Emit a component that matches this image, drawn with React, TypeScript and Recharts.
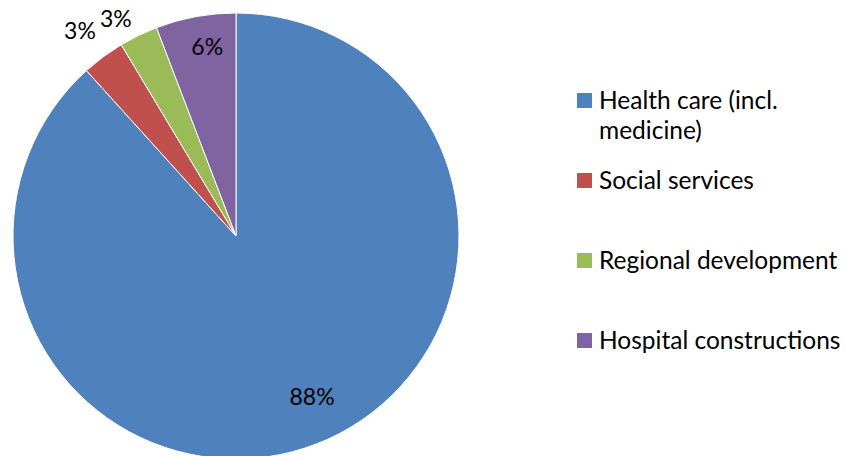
import React from 'react';
import { PieChart, Pie, Cell, Legend } from 'recharts';

const categories = ['Health care (incl. medicine)', 'Social services', 'Regional development', 'Hospital constructions'];
const shares = [88.3, 3.1, 2.8, 5.8];
const percentLabels = ['88%', '3%', '3%', '6%'];
const colors = ['#4F81BD', '#C0504D', '#9BBB59', '#8064A2'];

const data = categories.map((name, i) => ({ name, value: shares[i] }));

const RAD = Math.PI / 180;
const FONT = 'Lato, "Open Sans", sans-serif';

// label placement like Excel's "best fit": big slices inside, thin ones outside
const labelRadius = [0.8, 1.16, 1.12, 0.86];
const labelNudge = [[12, -6], [-2, 2], [-11, 7], [6, -1]];

function renderLabel(props: any) {
  const { cx, cy, midAngle, outerRadius, index } = props;
  const r = outerRadius * labelRadius[index];
  const x = cx + r * Math.cos(-midAngle * RAD) + labelNudge[index][0];
  const y = cy + r * Math.sin(-midAngle * RAD) + labelNudge[index][1];
  return (
    <text x={x} y={y} fill="#000" fontSize={23} fontFamily={FONT} textAnchor="middle" dominantBaseline="central">
      {percentLabels[index]}
    </text>
  );
}

function LegendBox() {
  return (
    <div style={{ fontFamily: FONT, fontSize: 24.5, color: '#000' }}>
      {categories.map((name, i) => (
        <div key={name} style={{ height: 80, display: 'flex', alignItems: 'flex-start' }}>
          <div style={{ width: 15, height: 15, background: colors[i], marginTop: 1, marginRight: 7, flexShrink: 0 }} />
          <div style={{ width: 252, lineHeight: '30px', marginTop: -7 }}>{name}</div>
        </div>
      ))}
    </div>
  );
}

export default function App() {
  return (
    <div style={{ position: 'absolute', left: 0, top: 0, width: 846, height: 456, background: '#fff', overflow: 'hidden' }}>
      <PieChart width={846} height={456} margin={{ top: 0, right: 0, bottom: 0, left: 0 }}>
        <Pie
          data={data}
          dataKey="value"
          cx={236}
          cy={236}
          outerRadius={223}
          startAngle={90}
          endAngle={-270}
          stroke="#fff"
          strokeWidth={1}
          label={renderLabel}
          labelLine={false}
          isAnimationActive={false}
        >
          {data.map((entry, i) => <Cell key={`cell-${i}`} fill={colors[i]} />)}
        </Pie>
        <Legend
          layout="vertical"
          content={() => <LegendBox />}
          wrapperStyle={{ position: 'absolute', left: 577, top: 92, width: 269 }}
        />
      </PieChart>
    </div>
  );
}
